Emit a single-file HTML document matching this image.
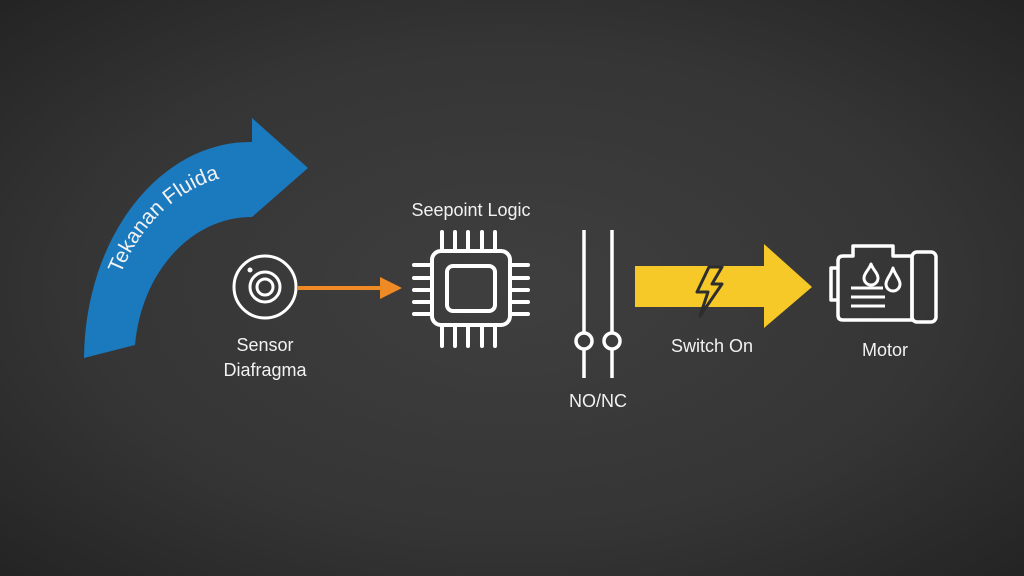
<!DOCTYPE html>
<html><head><style>
html,body{margin:0;padding:0;width:1024px;height:576px;overflow:hidden;background:#2e2e2e}
text{font-family:"Liberation Sans",sans-serif;fill:#f2f2f2}
</style></head><body>
<svg width="1024" height="576" viewBox="0 0 1024 576" xmlns="http://www.w3.org/2000/svg">
<defs>
<radialGradient id="bg" cx="50%" cy="50%" r="70%">
<stop offset="0" stop-color="#3f3f3f"/><stop offset="0.6" stop-color="#353535"/><stop offset="1" stop-color="#242424"/>
</radialGradient>
<path id="arcp" d="M 104 360 A 146 185 0 0 1 260 175"/>
</defs>
<rect width="1024" height="576" fill="url(#bg)"/>
<path d="M 84 358 A 166 218 0 0 1 252 142 L 252 118 L 308 168 L 252 217 A 117 143 0 0 0 135 345 Z" fill="#1b79be"/>
<text font-size="21" fill="#fff"><textPath href="#arcp" startOffset="88">Tekanan Fluida</textPath></text>
<g fill="none" stroke="#fff" stroke-width="3">
<circle cx="265" cy="287" r="31"/><circle cx="265" cy="287" r="15"/><circle cx="265" cy="287" r="8"/>
</g>
<circle cx="250" cy="270" r="2.5" fill="#fff"/>
<line x1="297" y1="288" x2="384" y2="288" stroke="#f08a24" stroke-width="4"/>
<polygon points="380,277 402,288 380,299" fill="#f08a24"/>
<text x="265" y="351" font-size="18" text-anchor="middle">Sensor</text>
<text x="265" y="376" font-size="18" text-anchor="middle">Diafragma</text>
<text x="471" y="216" font-size="18" text-anchor="middle">Seepoint Logic</text>
<g fill="none" stroke="#fff" stroke-width="4" stroke-linecap="round">
<rect x="432" y="251" width="78" height="74" rx="9"/>
<rect x="447" y="266" width="48" height="45" rx="6"/>
<path d="M442 232v18M455 232v18M468 232v18M482 232v18M495 232v18M442 326v20M455 326v20M468 326v20M482 326v20M495 326v20M414 265h17M414 278h17M414 290h17M414 302h17M414 314h17M511 265h17M511 278h17M511 290h17M511 302h17M511 314h17"/>
</g>
<g stroke="#fff" stroke-width="3.5" fill="none">
<line x1="584" y1="230" x2="584" y2="333"/><line x1="584" y1="349" x2="584" y2="378"/>
<line x1="612" y1="230" x2="612" y2="333"/><line x1="612" y1="349" x2="612" y2="378"/>
<circle cx="584" cy="341" r="8"/><circle cx="612" cy="341" r="8"/>
</g>
<text x="598" y="407" font-size="18" text-anchor="middle">NO/NC</text>
<polygon points="635,266 764,266 764,244 812,287 764,328 764,307 635,307" fill="#f6c928"/>
<path d="M709 267 L697 292 L708 292 L700 316 L722 284 L712 284 L722 267 Z" fill="#f6c928" stroke="#2d2d2d" stroke-width="3" stroke-linejoin="round"/>
<text x="712" y="352" font-size="18" text-anchor="middle">Switch On</text>
<g fill="none" stroke="#fff" stroke-width="3.5" stroke-linejoin="round">
<path d="M843 256 H853 V246 H893 V256 H912 V320 H843 Q838 320 838 315 V261 Q838 256 843 256 Z"/>
<rect x="912" y="252" width="24" height="70" rx="5"/>
<path d="M838 268 H831 V300 H838"/>
<path d="M871 264 C869 270 864 273 864 278 A7 7 0 0 0 878 278 C878 273 873 270 871 264 Z" stroke-width="3"/>
<path d="M893 268 C891 275 886 279 886 284 A7 7 0 0 0 900 284 C900 279 895 275 893 268 Z" stroke-width="3"/>
<path d="M851 288 H883 M851 297 H885 M851 306 H885" stroke-width="3"/>
</g>
<text x="885" y="356" font-size="18" text-anchor="middle">Motor</text>
</svg>
</body></html>
